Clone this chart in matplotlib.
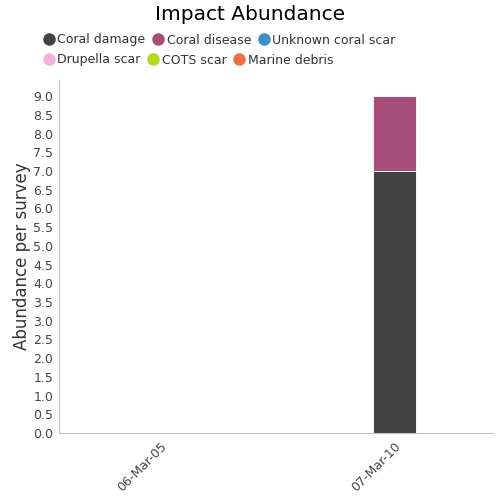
import numpy as np
import matplotlib.pyplot as plt
from matplotlib.lines import Line2D

dates = ["06-Mar-05", "07-Mar-10"]
series = ["Coral damage", "Coral disease", "Unknown coral scar",
          "Drupella scar", "COTS scar", "Marine debris"]
colors = ["#434343", "#a64d79", "#3d8fc6", "#f3b3da", "#b5d91f", "#f2703f"]
values = {
    "Coral damage": [0, 7],
    "Coral disease": [0, 2],
    "Unknown coral scar": [0, 0],
    "Drupella scar": [0, 0],
    "COTS scar": [0, 0],
    "Marine debris": [0, 0],
}
yticks = np.arange(0, 9.01, 0.5)

fig = plt.figure(figsize=(5, 5), dpi=100)
ax = fig.add_axes([0.118, 0.134, 0.868, 0.706])

x = np.arange(len(dates))
bottom = np.zeros(len(dates))
for name, col in zip(series, colors):
    v = np.array(values[name], dtype=float)
    ax.bar(x, v, width=0.185, bottom=bottom, color=col,
           edgecolor="white", linewidth=0.6)
    bottom += v

ax.set_xlim(-0.43, 1.42)
ax.set_ylim(0, 9.43)
ax.set_yticks(yticks)
ax.set_yticklabels([f"{t:.1f}" for t in yticks], fontsize=9, color="#444444")
ax.set_xticks(x)
ax.set_xticklabels(dates, rotation=45, ha="right", rotation_mode="anchor",
                   fontsize=9, color="#444444")
ax.tick_params(axis="both", length=0, pad=4)
ax.tick_params(axis="x", pad=5)
for s in ["top", "right"]:
    ax.spines[s].set_visible(False)
for s in ["left", "bottom"]:
    ax.spines[s].set_color("#c0c0c0")
ax.set_ylabel("Abundance per survey", fontsize=12, color="#333333", labelpad=2)

fig.text(0.5, 0.972, "Impact Abundance", ha="center", va="center",
         fontsize=14.5, color="black")

handles = [Line2D([], [], marker="o", linestyle="", markersize=8,
                  markerfacecolor=c, markeredgecolor=c) for c in colors]
kw = dict(loc="center left", ncol=3, frameon=False, fontsize=9,
          handlelength=0.9, handletextpad=0.25, columnspacing=0.55,
          borderaxespad=0, labelcolor="#333333")
fig.legend(handles[:3], series[:3], bbox_to_anchor=(0.076, 0.92), **kw)
fig.legend(handles[3:], series[3:], bbox_to_anchor=(0.076, 0.88), **kw)

fig.savefig("out.png", dpi=100)
